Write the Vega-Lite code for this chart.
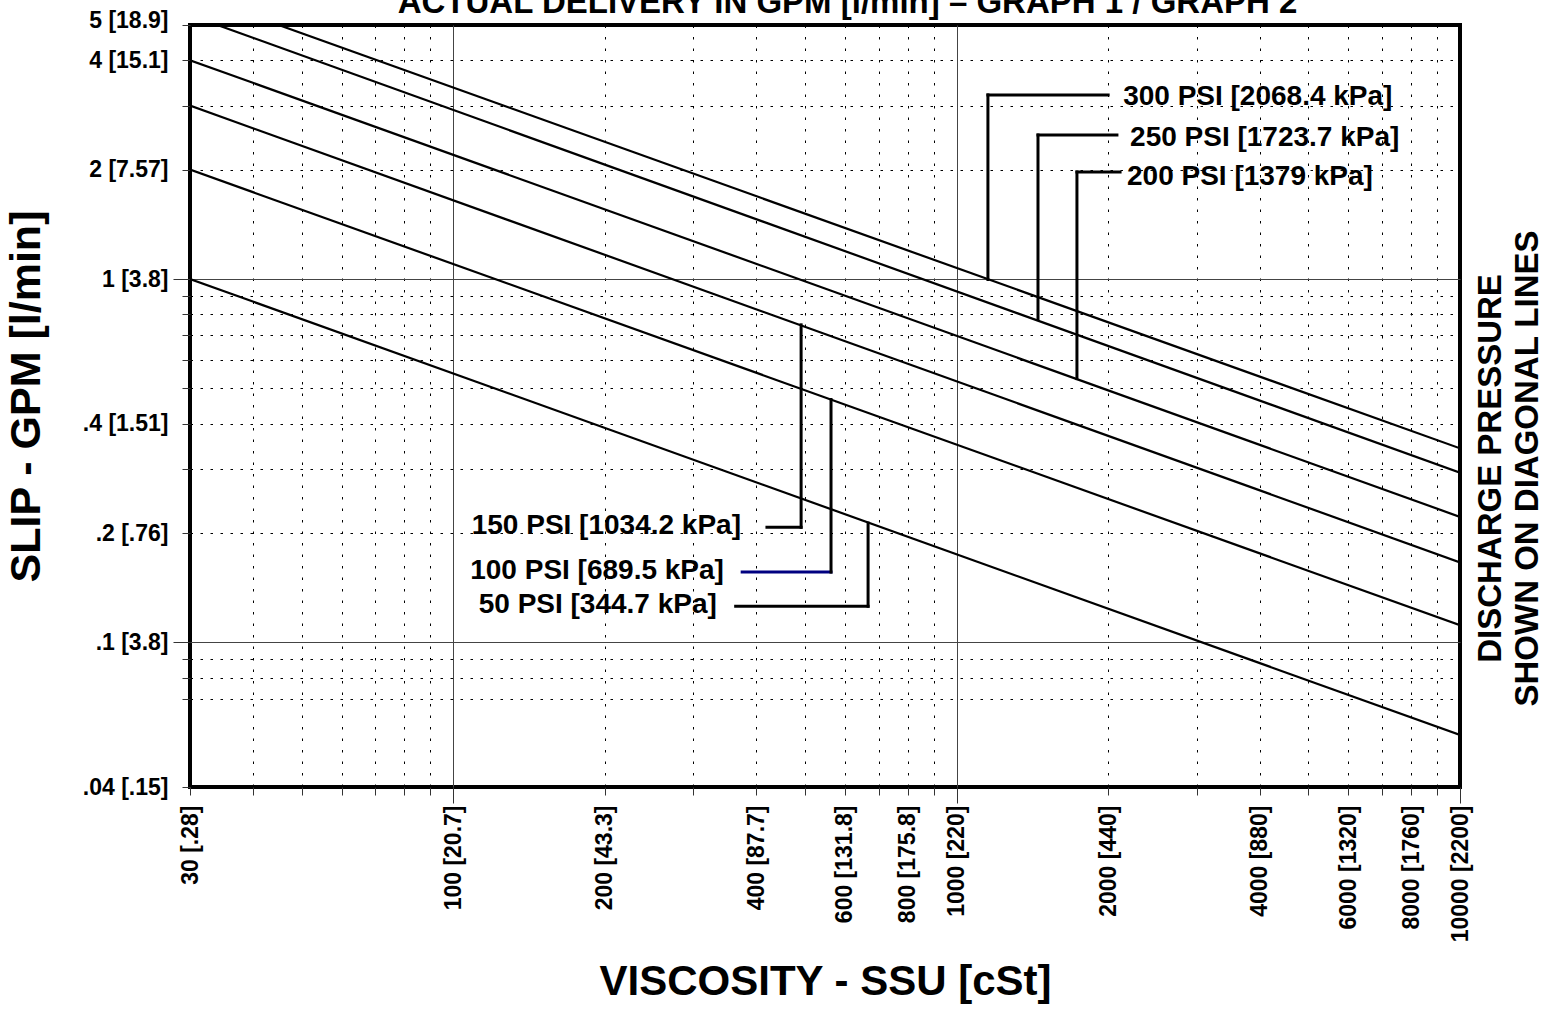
{
  "$schema": "https://vega.github.io/schema/vega-lite/v6.json",
  "width": 1270,
  "height": 762,
  "autosize": {"type": "none"},
  "padding": {"left": 190, "top": 25, "right": 90, "bottom": 222},
  "background": "white",
  "config": {
    "font": "Liberation Sans",
    "view": {"stroke": "black", "strokeWidth": 4},
    "axis": {"labelFont": "Liberation Sans", "titleFont": "Liberation Sans"}
  },
  "datasets": {
    "lines": [
      {"psi": 50, "ssu": 30, "gpm": 1.0}, {"psi": 50, "ssu": 10000, "gpm": 0.0556},
      {"psi": 100, "ssu": 30, "gpm": 2.0}, {"psi": 100, "ssu": 10000, "gpm": 0.1115},
      {"psi": 150, "ssu": 30, "gpm": 3.0}, {"psi": 150, "ssu": 10000, "gpm": 0.166},
      {"psi": 200, "ssu": 30, "gpm": 4.0}, {"psi": 200, "ssu": 10000, "gpm": 0.2215},
      {"psi": 250, "ssu": 34, "gpm": 5.0}, {"psi": 250, "ssu": 10000, "gpm": 0.293},
      {"psi": 300, "ssu": 45, "gpm": 5.0}, {"psi": 300, "ssu": 10000, "gpm": 0.342}
    ],
    "leaders": [
      {"psi": 300, "seg": "h", "ssu": 1154, "ssu2": 2000, "gpm": 3.21, "gpm2": 3.21},
      {"psi": 300, "seg": "v", "ssu": 1154, "ssu2": 1154, "gpm": 3.21, "gpm2": 0.997},
      {"psi": 250, "seg": "h", "ssu": 1451, "ssu2": 2082, "gpm": 2.49, "gpm2": 2.49},
      {"psi": 250, "seg": "v", "ssu": 1451, "ssu2": 1451, "gpm": 2.49, "gpm2": 0.776},
      {"psi": 200, "seg": "h", "ssu": 1734, "ssu2": 2112, "gpm": 1.97, "gpm2": 1.97},
      {"psi": 200, "seg": "v", "ssu": 1734, "ssu2": 1734, "gpm": 1.97, "gpm2": 0.532},
      {"psi": 150, "seg": "h", "ssu": 420, "ssu2": 491, "gpm": 0.2073, "gpm2": 0.2073},
      {"psi": 150, "seg": "v", "ssu": 491, "ssu2": 491, "gpm": 0.748, "gpm2": 0.2073},
      {"psi": 100, "seg": "h", "ssu": 375, "ssu2": 563, "gpm": 0.1561, "gpm2": 0.1561},
      {"psi": 100, "seg": "v", "ssu": 563, "ssu2": 563, "gpm": 0.466, "gpm2": 0.1561},
      {"psi": 50, "seg": "h", "ssu": 364, "ssu2": 667, "gpm": 0.1257, "gpm2": 0.1257},
      {"psi": 50, "seg": "v", "ssu": 667, "ssu2": 667, "gpm": 0.213, "gpm2": 0.1257}
    ],
    "labels": [
      {"psi": 300, "side": "right", "ssu": 2142, "gpm": 3.17, "text": "300 PSI [2068.4 kPa]"},
      {"psi": 250, "side": "right", "ssu": 2211, "gpm": 2.44, "text": "250 PSI [1723.7 kPa]"},
      {"psi": 200, "side": "right", "ssu": 2180, "gpm": 1.908, "text": "200 PSI [1379 kPa]"},
      {"psi": 150, "side": "left", "ssu": 373, "gpm": 0.2096, "text": "150 PSI [1034.2 kPa]"},
      {"psi": 100, "side": "left", "ssu": 345, "gpm": 0.1573, "text": "100 PSI [689.5 kPa]"},
      {"psi": 50, "side": "left", "ssu": 334, "gpm": 0.1268, "text": "50 PSI [344.7 kPa]"}
    ]
  },
  "resolve": {"axis": {"x": "independent", "y": "independent"}},
  "layer": [
    {
      "data": {"name": "lines"},
      "mark": {"type": "line", "color": "black", "strokeWidth": 2.2, "clip": true},
      "encoding": {
        "x": {
          "field": "ssu", "type": "quantitative",
          "scale": {"type": "log", "domain": [30, 10000], "nice": false},
          "axis": {
            "orient": "bottom",
            "values": [30, 40, 50, 60, 70, 80, 90, 100, 200, 300, 400, 500, 600, 700, 800, 900, 1000, 2000, 3000, 4000, 5000, 6000, 7000, 8000, 9000, 10000],
            "labelExpr": "datum.value==30?'30 [.28]':datum.value==100?'100 [20.7]':datum.value==200?'200 [43.3]':datum.value==400?'400 [87.7]':datum.value==600?'600 [131.8]':datum.value==800?'800 [175.8]':datum.value==1000?'1000 [220]':datum.value==2000?'2000 [440]':datum.value==4000?'4000 [880]':datum.value==6000?'6000 [1320]':datum.value==8000?'8000 [1760]':datum.value==10000?'10000 [2200]':''",
            "labelAngle": -90,
            "labelFontSize": 23,
            "labelFontWeight": 700,
            "labelColor": "black",
            "labelPadding": {"condition": {"test": "datum.value==100||datum.value==1000||datum.value==10000", "value": 2}, "value": 10},
            "labelOverlap": false,
            "labelBound": false,
            "labelFlush": false,
            "domain": false,
            "ticks": true,
            "tickColor": "#333333",
            "tickWidth": 1,
            "tickSize": {"condition": {"test": "datum.value==100||datum.value==1000||datum.value==10000", "value": 16}, "value": 8},
            "grid": true,
            "gridColor": {"condition": {"test": "datum.value==100||datum.value==1000", "value": "#444444"}, "value": "black"},
            "gridDash": {"condition": {"test": "datum.value==100||datum.value==1000", "value": []}, "value": [2.5, 9]},
            "gridWidth": 1,
            "title": "VISCOSITY - SSU [cSt]",
            "titleFontSize": 42,
            "titleFontWeight": "bold",
            "titleColor": "black",
            "titlePadding": 20
          }
        },
        "y": {
          "field": "gpm", "type": "quantitative",
          "scale": {"type": "log", "domain": [0.04, 5], "nice": false},
          "axis": {
            "orient": "left",
            "values": [0.04, 0.07, 0.08, 0.09, 0.1, 0.2, 0.3, 0.4, 0.5, 0.6, 0.7, 0.8, 0.9, 1, 2, 3, 4, 5],
            "labelExpr": "datum.value==5?'5 [18.9]':datum.value==4?'4 [15.1]':datum.value==2?'2 [7.57]':datum.value==1?'1 [3.8]':datum.value==0.4?'.4 [1.51]':datum.value==0.2?'.2 [.76]':datum.value==0.1?'.1 [3.8]':datum.value==0.04?'.04 [.15]':''",
            "labelFontSize": 23,
            "labelFontWeight": 700,
            "labelColor": "black",
            "labelPadding": {"condition": {"test": "datum.value==1||datum.value==0.1", "value": 5}, "value": 14},
            "labelOffset": {"condition": {"test": "datum.value==5", "value": -5}, "value": 0},
            "labelOverlap": false,
            "labelBound": false,
            "labelFlush": false,
            "domain": false,
            "ticks": true,
            "tickColor": "#333333",
            "tickWidth": 1,
            "tickSize": {"condition": {"test": "datum.value==1||datum.value==0.1", "value": 17}, "value": 8},
            "grid": true,
            "gridColor": {"condition": {"test": "datum.value==1||datum.value==0.1", "value": "#444444"}, "value": "black"},
            "gridDash": {"condition": {"test": "datum.value==1||datum.value==0.1", "value": []}, "value": [2.5, 7.5]},
            "gridWidth": 1,
            "title": "SLIP - GPM [l/min]",
            "titleFontSize": 43,
            "titleFontWeight": "bold",
            "titleColor": "black",
            "titlePadding": 34,
            "titleY": 371
          }
        },
        "detail": {"field": "psi", "type": "nominal"}
      }
    },
    {
      "data": {"name": "leaders"},
      "mark": {"type": "rule", "strokeWidth": 3, "strokeCap": "square"},
      "encoding": {
        "x": {
          "field": "ssu", "type": "quantitative",
          "axis": {
            "orient": "top",
            "labels": false,
            "ticks": false,
            "domain": false,
            "grid": false,
            "title": "ACTUAL DELIVERY IN GPM [l/min] – GRAPH 1 / GRAPH 2",
            "titleFontSize": 33,
            "titleFontWeight": "bold",
            "titleColor": "black",
            "titleAlign": "center",
            "titleBaseline": "alphabetic",
            "titleX": 657,
            "titleY": -13
          }
        },
        "x2": {"field": "ssu2"},
        "y": {"field": "gpm", "type": "quantitative", "axis": null},
        "y2": {"field": "gpm2"},
        "color": {
          "condition": {"test": "datum.psi == 100 && datum.seg == 'h'", "value": "#000080"},
          "value": "black"
        }
      }
    },
    {
      "data": {"name": "labels"},
      "transform": [{"filter": "datum.side == 'right'"}],
      "mark": {"type": "text", "align": "left", "baseline": "middle", "font": "Liberation Sans", "fontSize": 28, "fontWeight": "bold", "color": "black"},
      "encoding": {
        "x": {"field": "ssu", "type": "quantitative", "axis": null},
        "y": {
          "field": "gpm", "type": "quantitative",
          "axis": {
            "orient": "right",
            "labels": false,
            "ticks": false,
            "domain": false,
            "grid": false,
            "title": ["DISCHARGE PRESSURE", "SHOWN ON DIAGONAL LINES"],
            "titleAngle": 270,
            "titleBaseline": "top",
            "titleAlign": "center",
            "titleFontSize": 33,
            "titleFontWeight": "bold",
            "titleColor": "black",
            "titleLineHeight": 37,
            "titlePadding": -23,
            "titleY": 443
          }
        },
        "text": {"field": "text"}
      }
    },
    {
      "data": {"name": "labels"},
      "transform": [{"filter": "datum.side == 'left'"}],
      "mark": {"type": "text", "align": "right", "baseline": "middle", "font": "Liberation Sans", "fontSize": 28, "fontWeight": "bold", "color": "black"},
      "encoding": {
        "x": {"field": "ssu", "type": "quantitative", "axis": null},
        "y": {"field": "gpm", "type": "quantitative", "axis": null},
        "text": {"field": "text"}
      }
    }
  ]
}
